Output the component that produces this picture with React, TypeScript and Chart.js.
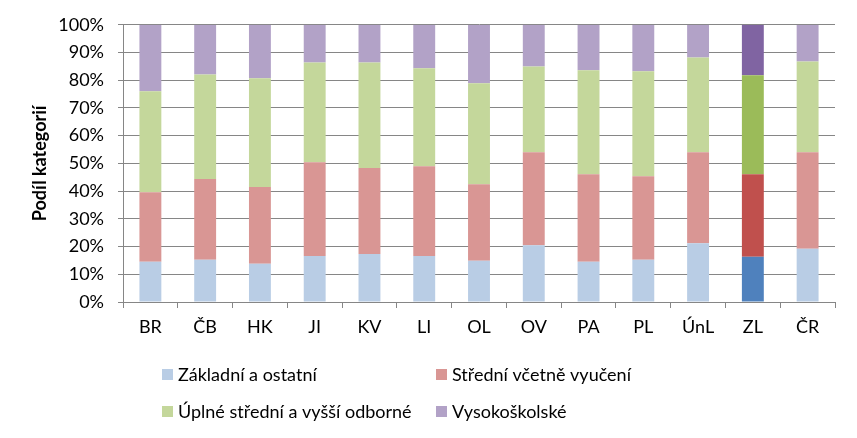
import React, { useEffect, useRef } from "react";
import { Chart, registerables } from "chart.js";

Chart.register(...registerables);

const categories = ["BR", "ČB", "HK", "JI", "KV", "LI", "OL", "OV", "PA", "PL", "ÚnL", "ZL", "ČR"];
const zakladni = [14.5, 15.2, 13.8, 16.6, 17.3, 16.6, 14.9, 20.5, 14.5, 15.2, 21.2, 16.3, 19.2];
const stredni = [25.1, 29.2, 27.7, 33.8, 31.0, 32.4, 27.6, 33.5, 31.6, 30.2, 32.8, 29.8, 34.8];
const uplne = [36.4, 37.7, 39.2, 36.0, 38.1, 35.3, 36.4, 31.0, 37.5, 37.8, 34.2, 35.7, 32.8];
const vysoko = [24.0, 17.9, 19.3, 13.6, 13.6, 15.7, 21.1, 15.0, 16.4, 16.8, 11.8, 18.2, 13.2];
const seriesNames = ["Základní a ostatní", "Střední včetně vyučení", "Úplné střední a vyšší odborné", "Vysokoškolské"];
const highlight = "ZL";

const light = ["#B9CDE5", "#D99694", "#C4D79B", "#B2A2C7"];
const dark = ["#4F81BD", "#C0504D", "#9BBB59", "#8064A2"];
const FONT = "Lato, Carlito, 'Liberation Sans', sans-serif";
const FS = 18;

const legendPlugin = {
  id: "twoColLegend",
  afterDraw(chart: any) {
    const ctx = chart.ctx;
    const cols = [162, 436];
    const rows = [374, 411];
    ctx.save();
    ctx.font = `${FS}px ${FONT}`;
    ctx.textBaseline = "middle";
    seriesNames.forEach((name, i) => {
      const x = cols[i % 2];
      const y = rows[Math.floor(i / 2)];
      ctx.fillStyle = light[i];
      ctx.fillRect(x, y - 5, 11, 11);
      ctx.fillStyle = "#000";
      ctx.fillText(name, x + 16, y + 1);
    });
    ctx.restore();
  },
};

export default function App() {
  const ref = useRef<HTMLCanvasElement>(null);
  useEffect(() => {
    const colorsFor = (s: number) => categories.map((c) => (c === highlight ? dark[s] : light[s]));
    const values = [zakladni, stredni, uplne, vysoko];
    const chart = new Chart(ref.current!, {
      type: "bar",
      data: {
        labels: categories,
        datasets: values.map((v, s) => ({
          label: seriesNames[s],
          data: v,
          backgroundColor: colorsFor(s),
          borderWidth: 0,
          categoryPercentage: 1,
          barPercentage: 0.4,
        })),
      },
      options: {
        animation: false,
        responsive: false,
        maintainAspectRatio: false,
        layout: { padding: { left: 10, right: 22, top: 23, bottom: 100 } },
        plugins: { legend: { display: false }, tooltip: { enabled: false } },
        scales: {
          x: {
            stacked: true,
            afterFit: (s: any) => { s.height = 36; },
            grid: { display: true, drawOnChartArea: false, drawTicks: true, tickLength: 6, color: "rgba(0,0,0,0)", tickColor: "#868686", offset: true },
            border: { display: true, color: "#868686" },
            ticks: { color: "#000", font: { family: FONT, size: FS }, padding: 8 },
          },
          y: {
            stacked: true,
            min: 0,
            max: 100,
            afterFit: (s: any) => { s.width = 113; },
            grid: { color: "#868686", tickColor: "#868686", tickLength: 5, drawTicks: true },
            border: { display: true, color: "#868686" },
            ticks: { stepSize: 10, color: "#000", font: { family: FONT, size: FS }, padding: 14, callback: (v: any) => v + "%" },
            title: { display: true, text: "Podíl kategorií", color: "#000", font: { family: FONT, size: FS, weight: "bold" }, padding: { top: 19, bottom: 0 } },
          },
        },
      },
      plugins: [legendPlugin],
    });
    return () => chart.destroy();
  }, []);
  return (
    <div style={{ position: "fixed", left: 0, top: 0, width: 857, height: 438, background: "#fff" }}>
      <canvas ref={ref} width={857} height={438} style={{ width: 857, height: 438 }} />
    </div>
  );
}
